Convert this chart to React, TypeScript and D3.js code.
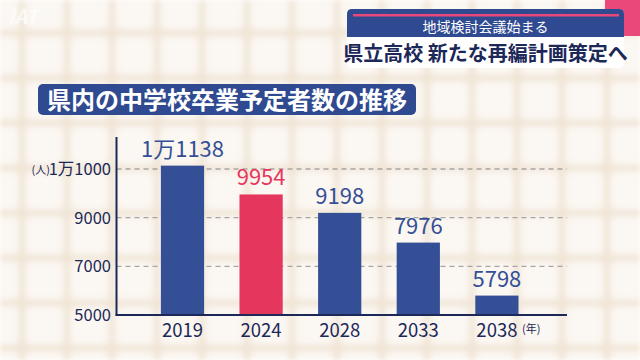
import React from "react";
import * as d3 from "d3";

const years = ["2019", "2024", "2028", "2033", "2038"];
const values = [11138, 9954, 9198, 7976, 5798];
const valueLabels = ["1万1138", "9954", "9198", "7976", "5798"];
const highlight = [false, true, false, false, false];
const yTicks = [5000, 7000, 9000, 11000];
const yTickLabels = ["5000", "7000", "9000", "1万1000"];

const W = 640;
const H = 360;
const FONT = "'Noto Sans CJK JP', 'Noto Sans', sans-serif";
const BLUE = "#354f96";
const RED = "#e5375e";
const NAVY = "#1c2858";

export default function App() {
  const x = d3
    .scaleBand<string>()
    .domain(years)
    .range([143.2, 536.2])
    .paddingInner(0.45)
    .paddingOuter(0.225);
  const y = d3.scaleLinear().domain([5000, 11000]).range([315, 169]);
  const axisX0 = 116.5;
  const axisX1 = 567;

  return (
    <svg
      width={W}
      height={H}
      style={{ position: "absolute", left: 0, top: 0 }}
      xmlns="http://www.w3.org/2000/svg"
    >
      <defs>
        <pattern id="tiles" x={-23} y={-12} width={45} height={45} patternUnits="userSpaceOnUse">
          <rect x={0} y={0} width={45} height={45} fill="#f1e6d8" />
          <rect x={2} y={2} width={41} height={41} rx={7} fill="#f8f2ea" />
          <rect x={6} y={6} width={33} height={33} rx={6} fill="#fbf7f2" />
        </pattern>
        <filter id="blur" x="0" y="0" width="1" height="1">
          <feGaussianBlur stdDeviation="2" />
        </filter>
      </defs>
      <rect x={0} y={0} width={W} height={H} fill="url(#tiles)" filter="url(#blur)" />

      {/* faint logo */}
      <text x={8} y={24} fontFamily={FONT} fontStyle="italic" fontWeight={700} fontSize={20} fill="#ffffff" opacity={0.65}>
        IAT
      </text>

      {/* top-right caption */}
      <rect x={605} y={0} width={35} height={36} fill="#e8487a" />
      <rect x={347} y={9} width={277} height={59} rx={5} fill="#ffffff" opacity={0.95} />
      <path d="M347,37 L347,14 Q347,9 352,9 L619,9 Q624,9 624,14 L624,37 Z" fill="#2f4a90" />
      <rect x={353} y={14} width={266} height={2.5} fill="#e8487a" />
      <text x={485.5} y={32} textAnchor="middle" fontFamily={FONT} fontSize={14} fill="#ffffff">
        地域検討会議始まる
      </text>
      <text x={485.5} y={61} textAnchor="middle" fontFamily={FONT} fontWeight={700} fontSize={20} fill="#1c2858">
        県立高校 新たな再編計画策定へ
      </text>

      {/* title box */}
      <rect x={38} y={84} width={378} height={31} rx={5} fill="#2f4a90" />
      <text x={47} y={109} fontFamily={FONT} fontWeight={700} fontSize={24} fill="#ffffff">
        県内の中学校卒業予定者数の推移
      </text>

      {/* gridlines */}
      {yTicks
        .filter((t) => t !== 5000)
        .map((t) => (
          <line
            key={t}
            x1={axisX0}
            x2={axisX1}
            y1={y(t)}
            y2={y(t)}
            stroke="#a9a5a2"
            strokeWidth={1.3}
            strokeDasharray="5,4"
          />
        ))}

      {/* bars */}
      {years.map((yr, i) => (
        <rect
          key={yr}
          x={x(yr)}
          y={y(values[i])}
          width={x.bandwidth()}
          height={y(5000) - y(values[i])}
          fill={highlight[i] ? RED : BLUE}
        />
      ))}

      {/* axes */}
      <line x1={axisX0} x2={axisX0} y1={137} y2={315.5} stroke={NAVY} strokeWidth={2} />
      <line x1={axisX0 - 1} x2={axisX1} y1={315} y2={315} stroke={NAVY} strokeWidth={2} />

      {/* y tick labels */}
      {yTicks.map((t, i) => (
        <text
          key={t}
          x={111}
          y={y(t) + 6}
          textAnchor="end"
          fontFamily={FONT}
          fontSize={16.5}
          fill={NAVY}
        >
          {yTickLabels[i]}
        </text>
      ))}
      <text x={50} y={y(11000) + 4.5} textAnchor="end" fontFamily={FONT} fontSize={11} fill={NAVY}>
        (人)
      </text>

      {/* value labels */}
      {years.map((yr, i) => (
        <text
          key={yr}
          x={(x(yr) as number) + x.bandwidth() / 2}
          y={y(values[i]) - 9}
          textAnchor="middle"
          fontFamily={FONT}
          fontSize={22}
          fill={highlight[i] ? RED : BLUE}
        >
          {valueLabels[i]}
        </text>
      ))}

      {/* x labels */}
      {years.map((yr) => (
        <text
          key={yr}
          x={(x(yr) as number) + x.bandwidth() / 2}
          y={337}
          textAnchor="middle"
          fontFamily={FONT}
          fontSize={18.5}
          fill={NAVY}
        >
          {yr}
        </text>
      ))}
      <text x={522} y={333} fontFamily={FONT} fontSize={11} fill={NAVY}>
        (年)
      </text>
    </svg>
  );
}
